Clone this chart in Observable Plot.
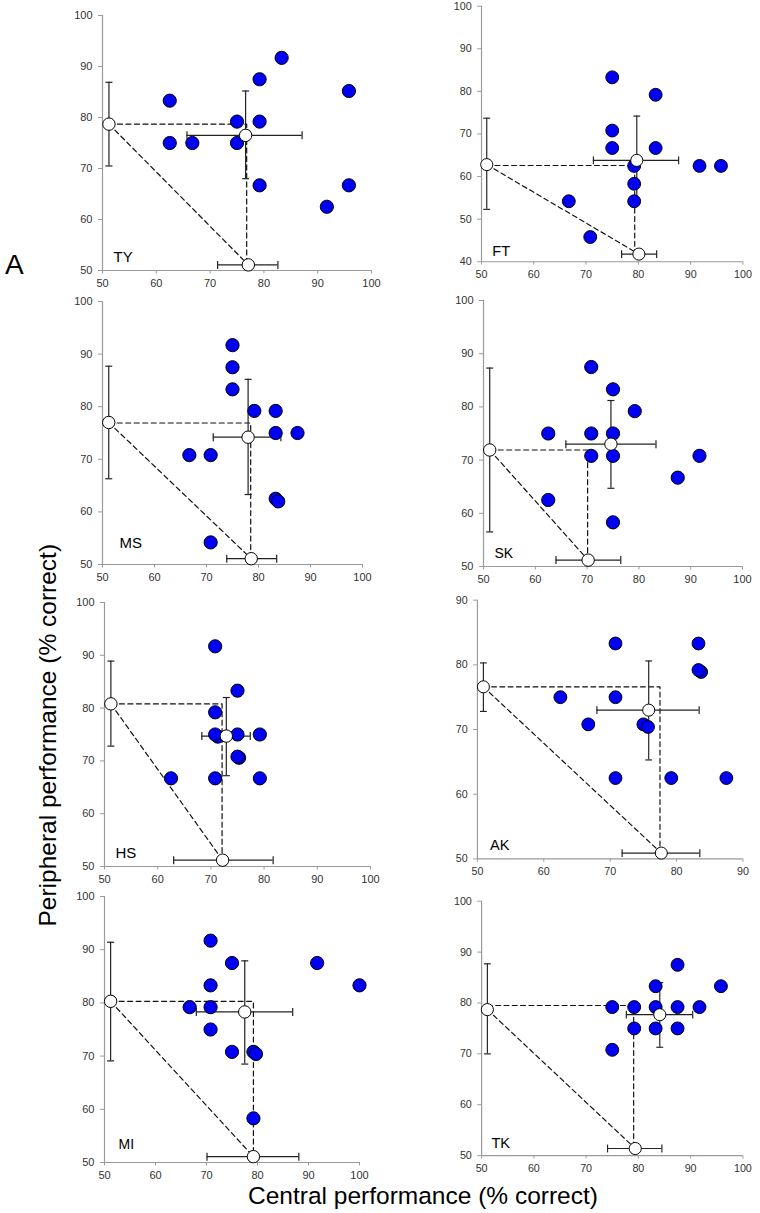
<!DOCTYPE html>
<html><head><meta charset="utf-8">
<script src="https://cdn.jsdelivr.net/npm/d3@7"></script>
<script src="https://cdn.jsdelivr.net/npm/@observablehq/plot@0.6"></script>
<style>
html,body{margin:0;padding:0;background:#fff;}
#fig{position:relative;width:760px;height:1213px;overflow:hidden;font-family:"Liberation Sans",Arial,sans-serif;color:#000;}
.panel{position:absolute;}
.panel svg{overflow:visible;display:block;}
#letterA{position:absolute;left:5px;top:251px;font-size:28px;line-height:28px;}
#xlab{position:absolute;left:123px;width:600px;text-align:center;top:1184px;font-size:24.5px;line-height:24.5px;white-space:nowrap;}
#ylab{position:absolute;width:600px;text-align:center;font-size:24.5px;line-height:24.5px;white-space:nowrap;transform:rotate(-90deg);transform-origin:50% 50%;}
</style></head><body><div id="fig"></div>
<script>
// ---------- data ----------
const names = ["TY","FT","MS","SK","HS","AK","MI","TK"];
const ticks100 = [50,60,70,80,90,100];
const ticks90 = [50,60,70,80,90];
const ticks40 = [40,50,60,70,80,90,100];
const xDomains = [[50,100],[50,100],[50,100],[50,100],[50,100],[50,90],[50,100],[50,100]];
const yDomains = [[50,100],[40,100],[50,100],[50,100],[50,100],[50,90],[50,100],[50,100]];
const xTickSets = [ticks100,ticks100,ticks100,ticks100,ticks100,ticks90,ticks100,ticks100];
const yTickSets = [ticks100,ticks40,ticks100,ticks100,ticks100,ticks90,ticks100,ticks100];

const ptsTY = [[62.5,83.3],[62.5,75],[66.7,75],[75,79.2],[75,75],[79.2,87.5],[79.2,79.2],[79.2,66.7],[83.3,91.7],[91.7,62.5],[95.8,85.2],[95.8,66.7]];
const ptsFT = [[75,83.3],[75,70.8],[75,66.7],[83.3,79.2],[83.3,66.7],[79.2,62.5],[79.2,58.3],[79.2,54.2],[66.7,54.2],[70.8,45.8],[91.7,62.5],[95.8,62.5]];
const ptsMS = [[75,91.7],[75,87.5],[75,83.3],[79.2,79.2],[83.3,79.2],[83.3,75],[87.5,75],[66.7,70.8],[70.8,70.8],[83.3,62.5],[83.8,62.0],[70.8,54.2]];
const ptsSK = [[70.8,87.5],[75,83.3],[79.2,79.2],[62.5,75],[70.8,75],[75,75],[70.8,70.8],[75,70.8],[91.7,70.8],[87.5,66.7],[62.5,62.5],[75,58.3]];
const ptsHS = [[70.8,91.7],[75,83.3],[70.8,79.2],[71.3,74.6],[70.8,75],[75,75],[79.2,75],[75.3,70.6],[75,70.8],[62.5,66.7],[70.8,66.7],[79.2,66.7]];
const ptsAK = [[70.8,83.3],[83.3,83.3],[83.7,78.9],[83.3,79.2],[62.5,75],[70.8,75],[66.7,70.8],[75,70.8],[75.7,70.4],[70.8,62.5],[79.2,62.5],[87.5,62.5]];
const ptsMI = [[70.8,91.7],[75,87.5],[91.7,87.5],[100,83.3],[70.8,83.3],[66.7,79.2],[70.8,79.2],[70.8,75],[75,70.8],[79.2,70.8],[79.7,70.4],[79.2,58.3]];
const ptsTK = [[87.5,87.5],[83.3,83.3],[95.8,83.3],[75,79.2],[79.2,79.2],[83.3,79.2],[87.5,79.2],[91.7,79.2],[79.2,75],[83.3,75],[87.5,75],[75,70.8]];
const pointSets = [ptsTY,ptsFT,ptsMS,ptsSK,ptsHS,ptsAK,ptsMI,ptsTK];

// mean (white dot with x and y error bars)
const meanX   = [76.6,79.7,78.0,74.6,72.9,75.8,77.5,84.1];
const meanXLo = [65.7,71.4,71.3,65.9,68.3,68.0,68.0,77.7];
const meanXHi = [87.1,87.7,84.3,83.3,77.4,83.4,86.9,90.4];
const meanY   = [76.5,63.8,74.2,73.0,74.7,73.0,78.3,77.7];
const meanYLo = [68.0,53.9,63.3,64.7,67.2,65.3,68.5,71.3];
const meanYHi = [85.2,74.2,85.2,81.2,82.0,80.6,87.9,84.0];
// peripheral marginal (white dot on the y axis)
const leftX   = [51.2,51.0,51.2,51.2,51.2,50.9,51.2,51.1];
const leftY   = [78.7,62.8,77.0,71.9,80.8,76.6,80.3,78.7];
const leftYLo = [70.5,52.3,66.3,56.5,72.8,72.8,69.1,70.0];
const leftYHi = [86.9,73.7,87.7,87.3,88.9,80.3,91.4,87.7];
// central marginal (white dot on the x axis)
const bottomX   = [77.1,80.1,78.6,70.2,72.2,77.7,79.2,79.4];
const bottomY   = [51.1,41.8,51.1,51.2,51.2,50.9,51.1,51.4];
const bottomXLo = [71.4,76.8,73.9,64.0,63.0,71.8,70.1,74.1];
const bottomXHi = [82.6,83.5,83.5,76.5,81.7,83.5,88.1,84.5];
// dashed projection corner
const cornerX = [76.8,79.3,78.5,70.1,72.1,77.5,79.2,79.1];
const cornerY = [78.7,62.6,76.9,71.9,80.8,76.6,80.3,79.5];

// ---------- layout (pixel frames: left, top, right, bottom) ----------
const frames = [
  [102,15,371,270],[482,6,750,268],
  [102,301,362,564],[483,300,742,566],
  [104,602,370,866],[478,600,751,866],
  [104,896,359,1162],[482,901,749,1161]
];
const labelOffsets = [[11,-9],[11,-6],[17,-17],[11,-9],[11,-9],[13,-9],[14,-14],[10,-8]];
const labelSizes = [15,15,15,14,15,15,14,15];

const capH = {draw(ctx, size){ const r = Math.sqrt(size/Math.PI); ctx.moveTo(-r,0); ctx.lineTo(r,0); }};
const capV = {draw(ctx, size){ const r = Math.sqrt(size/Math.PI); ctx.moveTo(0,-r); ctx.lineTo(0,r); }};

const fig = document.getElementById("fig");
const AX = "#9a9a9a", TXT = "#333", EB = "#222";

names.forEach((name, i) => {
  const [L,T,R,B] = frames[i];
  const mL = 40, mR = 18, mT = 12, mB = 26;
  const m = [{x: meanX[i], y: meanY[i], x1: meanXLo[i], x2: meanXHi[i], y1: meanYLo[i], y2: meanYHi[i]}];
  const l = [{x: leftX[i], y: leftY[i], y1: leftYLo[i], y2: leftYHi[i]}];
  const b = [{x: bottomX[i], y: bottomY[i], x1: bottomXLo[i], x2: bottomXHi[i]}];
  const dashStyle = {stroke: "#111", strokeWidth: 1.2, strokeDasharray: "5,3.5"};
  const ebStyle = {stroke: EB, strokeWidth: 1.2};
  const svg = Plot.plot({
    width: R - L + mL + mR,
    height: B - T + mT + mB,
    marginLeft: mL, marginRight: mR, marginTop: mT, marginBottom: mB,
    x: {domain: xDomains[i]},
    y: {domain: yDomains[i]},
    style: {fontFamily: "'Liberation Sans', Arial, sans-serif", fontSize: "11px", color: "#000", background: "none", overflow: "visible"},
    marks: [
      Plot.ruleX([xDomains[i][0]], {stroke: AX, strokeWidth: 1.2}),
      Plot.ruleY([yDomains[i][0]], {stroke: AX, strokeWidth: 1.2}),
      Plot.axisX({ticks: xTickSets[i], tickSize: 3.5, tickPadding: 5, stroke: AX, fill: TXT, label: null, fontSize: 11}),
      Plot.axisY({ticks: yTickSets[i], tickSize: 4, tickPadding: 6, stroke: AX, fill: TXT, label: null, fontSize: 11}),
      // dashed projection lines
      Plot.line([[leftX[i], cornerY[i]], [cornerX[i], cornerY[i]], [cornerX[i], bottomY[i]]], dashStyle),
      Plot.line([[leftX[i], leftY[i]], [bottomX[i], bottomY[i]]], dashStyle),
      // error bars
      Plot.ruleY(m, {y: "y", x1: "x1", x2: "x2", ...ebStyle}),
      Plot.ruleX(m, {x: "x", y1: "y1", y2: "y2", ...ebStyle}),
      Plot.dot(m, {x: "x1", y: "y", symbol: capV, r: 4, fill: "none", ...ebStyle}),
      Plot.dot(m, {x: "x2", y: "y", symbol: capV, r: 4, fill: "none", ...ebStyle}),
      Plot.dot(m, {x: "x", y: "y1", symbol: capH, r: 3.5, fill: "none", ...ebStyle}),
      Plot.dot(m, {x: "x", y: "y2", symbol: capH, r: 3.5, fill: "none", ...ebStyle}),
      Plot.ruleX(l, {x: "x", y1: "y1", y2: "y2", ...ebStyle}),
      Plot.dot(l, {x: "x", y: "y1", symbol: capH, r: 3.5, fill: "none", ...ebStyle}),
      Plot.dot(l, {x: "x", y: "y2", symbol: capH, r: 3.5, fill: "none", ...ebStyle}),
      Plot.ruleY(b, {y: "y", x1: "x1", x2: "x2", ...ebStyle}),
      Plot.dot(b, {x: "x1", y: "y", symbol: capV, r: 4, fill: "none", ...ebStyle}),
      Plot.dot(b, {x: "x2", y: "y", symbol: capV, r: 4, fill: "none", ...ebStyle}),
      // individual points
      Plot.dot(pointSets[i], {x: d => d[0], y: d => d[1], r: 6.6, fill: "#0000f5", stroke: "#000", strokeWidth: 1}),
      // means
      Plot.dot([...m, ...l, ...b], {x: "x", y: "y", r: 6.2, fill: "#fff", stroke: "#000", strokeWidth: 1}),
      // panel name
      Plot.text([name], {text: d => d, frameAnchor: "bottom-left", dx: labelOffsets[i][0], dy: labelOffsets[i][1], textAnchor: "start", lineAnchor: "bottom", fontSize: labelSizes[i], fill: "#000"})
    ]
  });
  const div = document.createElement("div");
  div.className = "panel";
  div.style.left = (L - mL) + "px";
  div.style.top = (T - mT) + "px";
  div.appendChild(svg);
  fig.appendChild(div);
});

const a = document.createElement("div");
a.id = "letterA"; a.textContent = "A"; fig.appendChild(a);
const xl = document.createElement("div");
xl.id = "xlab"; xl.textContent = "Central performance (% correct)"; fig.appendChild(xl);
const yl = document.createElement("div");
yl.id = "ylab"; yl.textContent = "Peripheral performance (% correct)";
// centre of rotated label
const ycx = 48, ycy = 735;
yl.style.left = (ycx - 300) + "px";
yl.style.top = (ycy - 12.25) + "px";
fig.appendChild(yl);
</script></body></html>
